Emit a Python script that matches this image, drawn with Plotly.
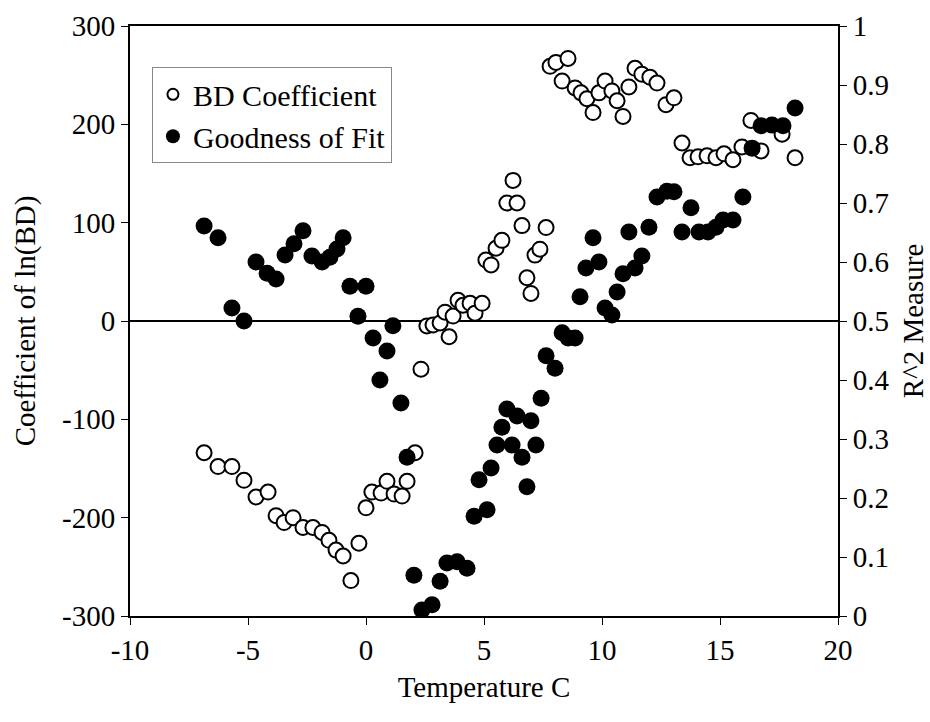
import plotly.graph_objects as go

# BD Coefficient (left axis)
bd_temp = [-6.86, -6.27, -5.68, -5.17, -4.66, -4.15, -3.81, -3.47, -3.09, -2.67,
           -2.25, -1.86, -1.57, -1.27, -0.97, -0.64, -0.30, 0.00, 0.25, 0.64,
           0.89, 1.19, 1.53, 1.74, 2.08, 2.33, 2.58, 2.84, 3.14, 3.35,
           3.52, 3.69, 3.90, 4.11, 4.41, 4.62, 4.92, 5.08, 5.30, 5.51,
           5.76, 5.97, 6.23, 6.40, 6.61, 6.82, 6.99, 7.16, 7.37, 7.63,
           7.80, 8.05, 8.31, 8.56, 8.86, 9.11, 9.36, 9.62, 9.87, 10.13,
           10.42, 10.64, 10.89, 11.14, 11.40, 11.69, 12.03, 12.33, 12.71, 13.05,
           13.39, 13.73, 14.07, 14.45, 14.83, 15.17, 15.55, 15.93, 16.31, 16.74,
           17.63, 18.18]
bd_coef = [-134, -148, -148, -162, -179, -174, -198, -205, -200, -210,
           -210, -215, -223, -233, -239, -264, -226, -190, -174, -175,
           -163, -176, -178, -163, -134, -49, -5, -4, -2, 9,
           -16, 5, 21, 16, 18, 8, 18, 62, 57, 74,
           82, 120, 143, 120, 97, 44, 28, 67, 73, 95,
           259, 263, 244, 267, 237, 232, 226, 212, 232, 244,
           234, 224, 208, 238, 257, 251, 248, 242, 220, 227,
           181, 166, 167, 168, 166, 170, 164, 177, 204, 173,
           190, 166]

# Goodness of fit (right axis, R^2)
gof_temp = [-6.86, -6.27, -5.68, -5.17, -4.66, -4.19, -3.81, -3.43, -3.05, -2.67,
            -2.29, -1.86, -1.53, -1.23, -0.97, -0.68, -0.34, 0.00, 0.30, 0.59,
            0.89, 1.14, 1.48, 1.74, 2.03, 2.37, 2.80, 3.14, 3.43, 3.86,
            4.28, 4.58, 4.79, 5.13, 5.30, 5.55, 5.76, 5.97, 6.19, 6.40,
            6.61, 6.82, 6.99, 7.20, 7.42, 7.63, 8.01, 8.31, 8.56, 8.86,
            9.07, 9.32, 9.62, 9.87, 10.13, 10.42, 10.64, 10.89, 11.14, 11.40,
            11.69, 11.99, 12.33, 12.75, 13.05, 13.39, 13.77, 14.11, 14.49, 14.83,
            15.13, 15.55, 15.97, 16.36, 16.74, 17.20, 17.67, 18.18]
gof_r2 = [0.661, 0.641, 0.522, 0.500, 0.600, 0.581, 0.571, 0.612, 0.631, 0.653,
          0.610, 0.600, 0.608, 0.622, 0.641, 0.559, 0.508, 0.559, 0.471, 0.400,
          0.449, 0.492, 0.361, 0.269, 0.069, 0.010, 0.019, 0.059, 0.090, 0.092,
          0.081, 0.169, 0.231, 0.180, 0.251, 0.290, 0.320, 0.351, 0.290, 0.339,
          0.269, 0.219, 0.331, 0.290, 0.369, 0.441, 0.420, 0.480, 0.471, 0.471,
          0.541, 0.590, 0.641, 0.600, 0.522, 0.510, 0.549, 0.580, 0.651, 0.590,
          0.610, 0.659, 0.710, 0.720, 0.719, 0.651, 0.692, 0.651, 0.651, 0.659,
          0.671, 0.671, 0.710, 0.793, 0.831, 0.832, 0.831, 0.861]

x_ticks = [-10, -5, 0, 5, 10, 15, 20]
x_tick_labels = ["-10", "-5", "0", "5", "10", "15", "20"]
y_ticks = [-300, -200, -100, 0, 100, 200, 300]
y_tick_labels = ["-300", "-200", "-100", "0", "100", "200", "300"]
y2_ticks = [0, 0.1, 0.2, 0.3, 0.4, 0.5, 0.6, 0.7, 0.8, 0.9, 1]
y2_tick_labels = ["0", "0.1", "0.2", "0.3", "0.4", "0.5", "0.6", "0.7", "0.8", "0.9", "1"]

FONT = "Liberation Serif"

fig = go.Figure()
fig.add_trace(go.Scatter(
    x=bd_temp, y=bd_coef, mode="markers", name="BD Coefficient", showlegend=False,
    marker=dict(size=15, color="white", line=dict(color="black", width=2)),
    yaxis="y"))
fig.add_trace(go.Scatter(
    x=gof_temp, y=gof_r2, mode="markers", name="Goodness of Fit", showlegend=False,
    marker=dict(size=17, color="black", line=dict(color="black", width=0)),
    yaxis="y2"))
# legend entries
fig.add_trace(go.Scatter(
    x=[None], y=[None], mode="markers", name="BD Coefficient",
    marker=dict(size=11, color="white", line=dict(color="black", width=2))))
fig.add_trace(go.Scatter(
    x=[None], y=[None], mode="markers", name="Goodness of Fit",
    marker=dict(size=14, color="black")))

axis_common = dict(
    showgrid=False, showline=True, linecolor="black", linewidth=2,
    ticks="outside", ticklen=7, tickcolor="black", tickwidth=1,
    tickfont=dict(family=FONT, size=29, color="black"),
)

fig.update_layout(
    width=930, height=722,
    margin=dict(l=130, r=92, t=26, b=106, autoexpand=False),
    plot_bgcolor="white", paper_bgcolor="white",
    font=dict(family=FONT, size=29, color="black"),
    xaxis=dict(range=[-10, 20], tickvals=x_ticks, ticktext=x_tick_labels,
               mirror=True, zeroline=False,
               title=dict(text="Temperature C", standoff=12,
                          font=dict(family=FONT, size=29)),
               **axis_common),
    yaxis=dict(range=[-300, 300], tickvals=y_ticks, ticktext=y_tick_labels,
               zeroline=True, zerolinecolor="black", zerolinewidth=1.5,
               title=dict(text="Coefficient of ln(BD)", standoff=18,
                          font=dict(family=FONT, size=29)),
               **axis_common),
    yaxis2=dict(range=[0, 1], tickvals=y2_ticks, ticktext=y2_tick_labels,
                overlaying="y", side="right", zeroline=False,
                title=dict(text="R^2 Measure", standoff=14,
                           font=dict(family=FONT, size=29)),
                **axis_common),
    legend=dict(x=0.031, y=0.93, xanchor="left", yanchor="top",
                bgcolor="white", bordercolor="#888888", borderwidth=1,
                font=dict(family=FONT, size=30, color="black"),
                itemwidth=30, tracegroupgap=0),
    showlegend=True,
)

fig.write_html("out.html")
